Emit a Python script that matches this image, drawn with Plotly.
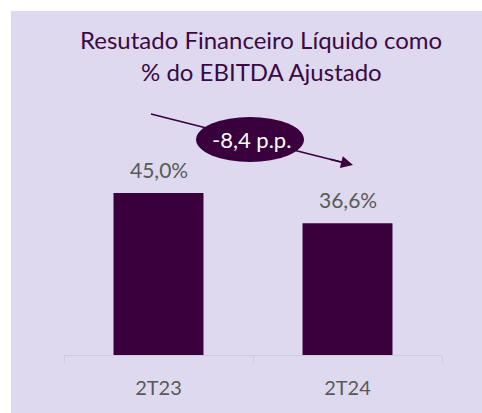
import plotly.graph_objects as go

# ---- data ----
categories = ["2T23", "2T24"]
values = [45.0, 36.6]
title_lines = ["Resutado Financeiro Líquido como", "% do EBITDA Ajustado"]
delta_label = "-8,4 p.p."

# ---- style ----
W, H = 482, 413
ML, MR, MT, MB = 64, 40, 20, 58
PW, PH = W - ML - MR, H - MT - MB
PX_PER_UNIT = 3.6
YMAX = PH / PX_PER_UNIT

BAR = "#3a003e"
TITLE = "#3b0a45"
GRAY = "#595959"
LAV = "#ded9ee"
AXIS = "#cfcbd8"
FONT = "Lato"


def px(xp):
    return (xp - ML) / PW


def py(yp):
    return (H - MB - yp) / PH


def fmt(v):
    return f"{v:.1f}%".replace(".", ",")


fig = go.Figure()
fig.add_trace(go.Bar(x=categories, y=values, marker=dict(color=BAR, line=dict(width=0)),
                     hoverinfo="skip"))

annotations = []
for c, v in zip(categories, values):
    annotations.append(dict(x=c, y=v, xref="x", yref="y", text=fmt(v), showarrow=False,
                            yanchor="bottom", yshift=9,
                            font=dict(family=FONT, size=21, color=GRAY)))

# title lines
for i, t in enumerate(title_lines):
    annotations.append(dict(x=px(261), y=py(39 + 32 * i), xref="paper", yref="paper",
                            text=t, showarrow=False, xanchor="center", yanchor="middle",
                            font=dict(family=FONT, size=24, color=TITLE)))

# arrow head
tail = (151, 114)
head = (353, 165)
dx, dy = head[0] - tail[0], head[1] - tail[1]
annotations.append(dict(x=px(head[0]), y=py(head[1]), xref="paper", yref="paper",
                        ax=-dx * 0.12, ay=-dy * 0.12, axref="pixel", ayref="pixel",
                        text="", showarrow=True, arrowhead=2, arrowsize=1.6,
                        arrowwidth=1.5, arrowcolor=BAR, standoff=0))
# delta label
annotations.append(dict(x=px(251), y=py(139), xref="paper", yref="paper", text=delta_label,
                        showarrow=False, xanchor="center", yanchor="middle",
                        font=dict(family=FONT, size=22, color="white")))

shapes = [
    dict(type="rect", xref="paper", yref="paper", x0=px(11), x1=px(W + 5), y0=py(H + 5), y1=py(11),
         fillcolor=LAV, line=dict(width=0), layer="below"),
    dict(type="line", xref="paper", yref="paper", x0=px(tail[0]), y0=py(tail[1]),
         x1=px(head[0] - dx * 0.05), y1=py(head[1] - dy * 0.05),
         line=dict(color=BAR, width=1.5), layer="above"),
    dict(type="circle", xref="paper", yref="paper", x0=px(196), x1=px(304), y0=py(162), y1=py(117),
         fillcolor=BAR, line=dict(width=0), layer="above"),
]

fig.update_layout(
    width=W, height=H,
    margin=dict(l=ML, r=MR, t=MT, b=MB, pad=0),
    paper_bgcolor="white", plot_bgcolor="rgba(0,0,0,0)",
    showlegend=False, bargap=0.524,
    font=dict(family=FONT, color=GRAY),
    annotations=annotations, shapes=shapes,
    xaxis=dict(showline=True, linecolor=AXIS, linewidth=1, ticks="outside", tickson="boundaries",
               ticklen=7, tickcolor=AXIS, tickwidth=1, showgrid=False, zeroline=False,
               fixedrange=True,
               tickfont=dict(family=FONT, size=20, color=GRAY), ticklabelstandoff=15),
    yaxis=dict(range=[0, YMAX], visible=False, showgrid=False, zeroline=False, fixedrange=True),
)

fig.write_html("out.html", config={"displayModeBar": False, "staticPlot": True},
               post_script="document.body.style.margin='0';document.body.style.padding='0';")
